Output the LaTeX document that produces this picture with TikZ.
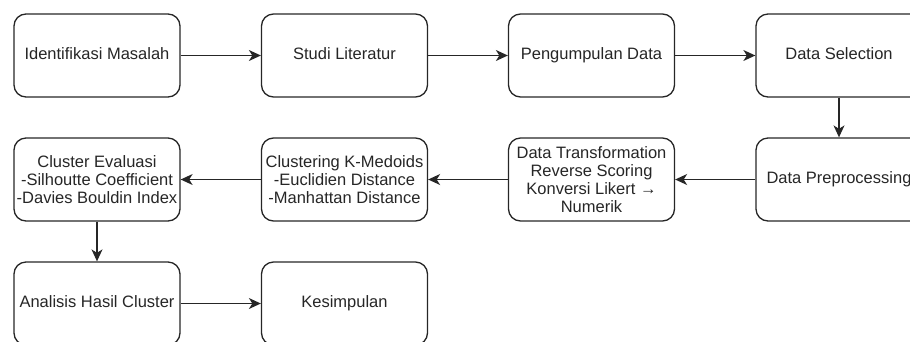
\documentclass[tikz,border=0pt]{standalone}
\usepackage{fontspec}
\setmainfont{Liberation Sans}
\usetikzlibrary{arrows.meta}
\begin{document}
\begin{tikzpicture}[x=1pt,y=-1pt,
  box/.style={draw=black!85, line width=1.3pt, rounded corners=12pt, minimum width=166pt, minimum height=83pt, inner sep=0pt, align=center, text=black!85, font=\fontsize{16.5}{18}\selectfont},
  oneline/.style={box, text height=12pt, text depth=3.5pt},
  conn/.style={draw=black!85, line width=1.3pt, -{Stealth[length=12pt,width=11pt,inset=3.5pt]}}]
\useasboundingbox (0,0) rectangle (910,341);
\node[oneline] (b1) at (97,55.5) {Identifikasi Masalah};
\node[oneline] (b2) at (344.5,55.5) {Studi Literatur};
\node[oneline] (b3) at (591.5,55.5) {Pengumpulan Data};
\node[oneline] (b4) at (839,55.5) {Data Selection};
\node[oneline] (b5) at (839,179.5) {Data Preprocessing};
\node[box] (b6) at (591.5,179.5) {Data Transformation\\Reverse Scoring\\Konversi Likert →\\Numerik};
\node[box] (b7) at (344.5,179.5) {Clustering K-Medoids\\-Euclidien Distance\\-Manhattan Distance};
\node[box] (b8) at (97,179.5) {Cluster Evaluasi\\-Silhoutte Coefficient\\-Davies Bouldin Index};
\node[oneline] (b9) at (97,303.5) {Analisis Hasil Cluster};
\node[oneline] (b10) at (344.5,303.5) {Kesimpulan};
\draw[conn] (b1) -- (b2);
\draw[conn] (b2) -- (b3);
\draw[conn] (b3) -- (b4);
\draw[conn] (b4) -- (b5);
\draw[conn] (b5) -- (b6);
\draw[conn] (b6) -- (b7);
\draw[conn] (b7) -- (b8);
\draw[conn] (b8) -- (b9);
\draw[conn] (b9) -- (b10);
\end{tikzpicture}
\end{document}
